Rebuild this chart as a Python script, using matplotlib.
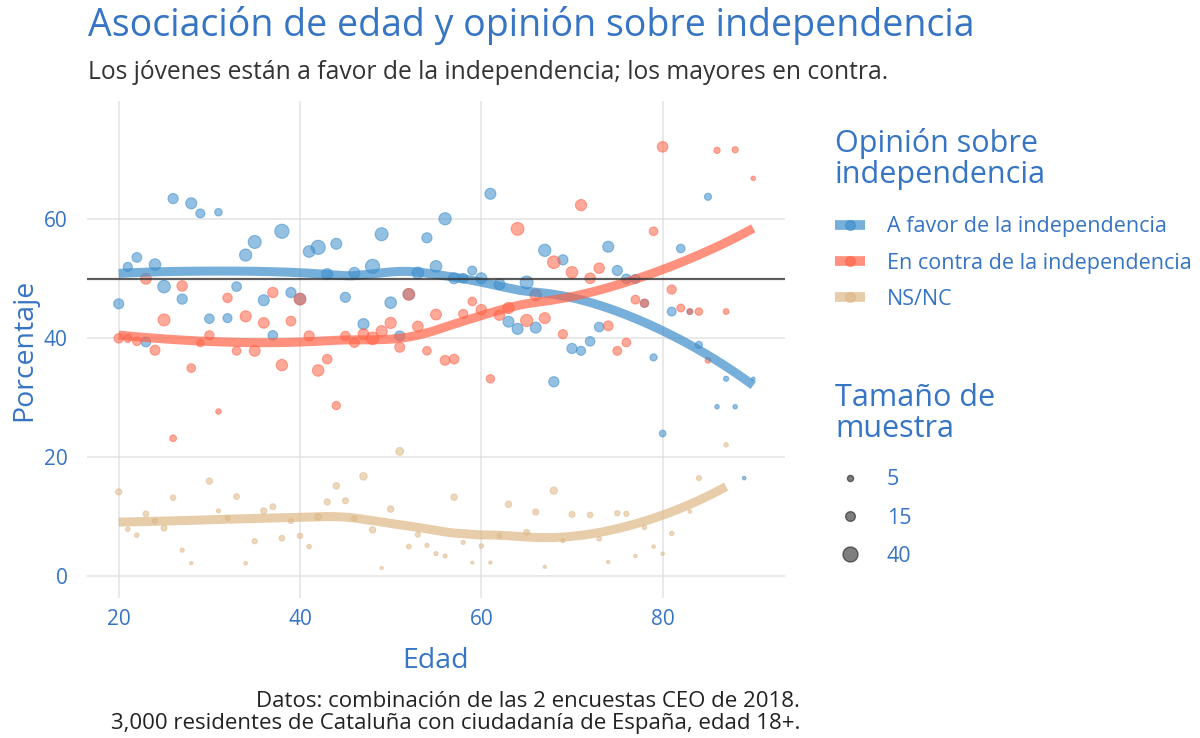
import numpy as np
import matplotlib

matplotlib.use("Agg")
import matplotlib.pyplot as plt
from matplotlib.lines import Line2D
from matplotlib.legend_handler import HandlerTuple

plt.rcParams["font.family"] = ["Open Sans", "DejaVu Sans"]

# Data: % per opinion at each age, and people per age.
edad = np.arange(20, 91)
a_favor = np.array([
    45.8, 52.0, 53.6, 39.4, 52.4, 48.7, 63.5, 46.6, 62.7, 61.0,
    43.3, 61.2, 43.4, 48.7, 54.0, 56.2, 46.4, 40.5, 58.0, 47.7,
    46.6, 54.6, 55.3, 50.8, 55.9, 46.9, 51.0, 42.4, 52.1, 57.5,
    46.0, 40.4, 47.4, 51.0, 56.9, 52.1, 60.1, 50.1, 50.1, 51.4,
    50.1, 64.3, 49.1, 42.8, 41.6, 49.4, 41.8, 54.8, 32.7, 53.2,
    38.3, 37.9, 39.5, 41.9, 55.4, 51.4, 50.0, 50.0, 45.9, 36.8,
    24.0, 44.5, 55.1, 44.5, 38.9, 63.8, 28.5, 33.2, 28.5, 16.5,
    33.2,
])
en_contra = np.array([
    40.0, 40.0, 39.5, 50.0, 38.0, 43.1, 23.2, 48.8, 35.0, 39.2,
    40.5, 27.7, 46.8, 37.9, 43.7, 37.9, 42.6, 47.7, 35.5, 42.9,
    46.6, 40.4, 34.6, 36.5, 28.7, 40.4, 39.3, 40.7, 40.0, 41.2,
    42.6, 38.5, 47.4, 42.0, 37.9, 44.0, 36.3, 36.5, 44.1, 46.2,
    44.8, 33.2, 43.9, 45.1, 58.4, 43.0, 47.3, 43.4, 52.8, 40.7,
    51.1, 62.4, 50.1, 51.8, 42.1, 37.9, 39.3, 46.5, 45.9, 58.0,
    72.2, 48.2, 45.1, 44.5, 44.5, 36.3, 71.6, 44.5, 71.7, np.nan,
    66.9,
])
ns_nc = np.array([
    14.2, 7.9, 6.9, 10.5, 9.3, 8.1, 13.2, 4.4, 2.2, np.nan,
    16.0, 11.0, 9.8, 13.4, 2.2, 5.9, 11.0, 11.7, 6.4, 9.3,
    6.8, 5.0, 10.0, 12.5, 15.2, 12.7, 9.7, 16.8, 7.8, 1.4,
    11.3, 21.0, 5.0, 7.0, 5.2, 3.8, 3.4, 13.3, 5.7, 2.3,
    5.1, 2.3, 6.8, 12.1, np.nan, 7.4, 10.8, 1.6, 14.4, 6.0,
    10.4, np.nan, 10.3, 6.3, 2.4, 10.6, 10.5, 3.4, 8.2, 5.0,
    3.8, 7.2, np.nan, 10.9, 16.5, np.nan, np.nan, 22.1, np.nan, np.nan,
    np.nan,
])
muestra = np.array([
    35, 25, 28, 38, 42, 55, 26, 36, 32, 20,
    33, 13, 29, 30, 46, 51, 43, 36, 60, 35,
    48, 41, 63, 39, 35, 35, 39, 47, 67, 50,
    48, 41, 47, 44, 29, 43, 42, 40, 29, 24,
    40, 31, 40, 46, 48, 58, 47, 46, 51, 31,
    43, 33, 36, 34, 36, 32, 29, 25, 22, 19,
    25, 27, 20, 9, 18, 11, 7, 9, 7, 6,
    3,
])

opiniones = ["A favor de la independencia", "En contra de la independencia", "NS/NC"]
series = [a_favor, en_contra, ns_nc]
colores = ["#3C8DCB", "#FF6347", "#DEB887"]
size_breaks = [5, 15, 40]

BLUE_TXT = "#3674C4"
DPI = 100


def point_size(count):
    # area-style size scale, radius in px grows with sqrt(count)
    r_px = 0.9 + 1.08 * np.sqrt(count)
    return (2 * r_px * 72 / DPI - 0.3) ** 2


def loess(x, y, span=0.75, n_out=80):
    """Local quadratic fit with tricube weights (what geom_smooth does)."""
    grid = np.linspace(x.min(), x.max(), n_out)
    q = int(np.floor(len(x) * span))
    fit = []
    for x0 in grid:
        d = np.abs(x - x0)
        h = np.sort(d)[q - 1]
        w = np.clip(1 - (d / h) ** 3, 0, None) ** 3
        coef = np.polyfit(x - x0, y, 2, w=np.sqrt(w))
        fit.append(coef[-1])
    return grid, np.array(fit)


fig = plt.figure(figsize=(12, 7.38), dpi=DPI)
ax = fig.add_axes([87 / 1200, 140 / 738, 698 / 1200, 497 / 738])

for pct, col in zip(series, colores):
    m = ~np.isnan(pct)
    x, y = edad[m], pct[m]
    n = y * muestra[m] / 100
    ax.scatter(x, y, s=point_size(n), color=col, alpha=0.55,
               edgecolors=col, linewidths=0.8, zorder=2)
    gx, gy = loess(x.astype(float), y)
    ax.plot(gx, gy, color=col, lw=6.5, alpha=0.7,
            solid_capstyle="butt", zorder=3)

ax.axhline(50, color="#333333", lw=1.6, alpha=0.8, zorder=4)

ax.set_xlim(16.5, 93.5)
ax.set_ylim(-3.65, 79.9)
ax.set_xticks([20, 40, 60, 80])
ax.set_yticks([0, 20, 40, 60])
ax.grid(color="#E3E3E3", lw=1.1)
ax.set_axisbelow(True)
for s in ax.spines.values():
    s.set_visible(False)
ax.tick_params(length=0, labelsize=15, labelcolor=BLUE_TXT)
ax.tick_params(axis="x", pad=8)
ax.tick_params(axis="y", pad=14)
ax.set_xlabel("Edad", fontsize=20.5, color=BLUE_TXT, labelpad=12)
ax.set_ylabel("Porcentaje", fontsize=20.5, color=BLUE_TXT, labelpad=4)

fig.text(88 / 1200, 1 - 36 / 738, "Asociación de edad y opinión sobre independencia",
         fontsize=27, color=BLUE_TXT, va="baseline", ha="left")
fig.text(88 / 1200, 1 - 79 / 738,
         "Los jóvenes están a favor de la independencia; los mayores en contra.",
         fontsize=17.7, color="#333333", va="baseline", ha="left")
fig.text(800 / 1200, 1 - 729 / 738,
         "Datos: combinación de las 2 encuestas CEO de 2018.\n"
         "3,000 residentes de Cataluña con ciudadanía de España, edad 18+.",
         fontsize=16, color="#222222", ha="right", va="baseline",
         multialignment="right", linespacing=1.05)

# legend titles as separate texts so the gap to the keys can be set freely
fig.text(835 / 1200, 1 - 128 / 738, "Opinión sobre\nindependencia",
         fontsize=22, color=BLUE_TXT, va="top", ha="left", linespacing=1.05)
fig.text(835 / 1200, 1 - 383 / 738, "Tamaño de\nmuestra",
         fontsize=22, color=BLUE_TXT, va="top", ha="left", linespacing=1.05)

# colour legend: thick line with a dot on top
handles = []
for col in colores:
    line = Line2D([], [], color=col, lw=7, alpha=0.7, solid_capstyle="butt")
    dot = Line2D([], [], marker="o", ls="", color=col, alpha=0.6, markersize=7)
    handles.append((line, dot))
fig.legend(handles, opiniones, loc="center left",
           bbox_to_anchor=(835 / 1200, 1 - 263 / 738),
           handler_map={tuple: HandlerTuple(ndivide=1)},
           frameon=False, fontsize=15.5, labelcolor=BLUE_TXT,
           handlelength=1.4, handletextpad=1.0,
           labelspacing=0.7, borderpad=0, borderaxespad=0)

size_handles = [
    Line2D([], [], marker="o", ls="", color="black", alpha=0.5,
           markersize=np.sqrt(point_size(b)))
    for b in size_breaks
]
fig.legend(size_handles, [str(b) for b in size_breaks], loc="center left",
           bbox_to_anchor=(835 / 1200, 1 - 518 / 738),
           frameon=False, fontsize=15.5, labelcolor=BLUE_TXT,
           handlelength=1.4, handletextpad=1.0,
           labelspacing=0.8, borderpad=0, borderaxespad=0)

fig.savefig("out.png", dpi=DPI)
plt.close(fig)
